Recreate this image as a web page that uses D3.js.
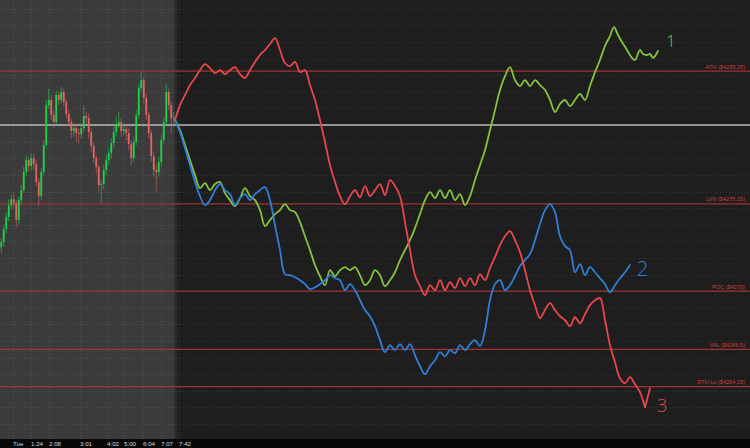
<!DOCTYPE html>
<html><head><meta charset="utf-8">
<script src="https://cdn.jsdelivr.net/npm/d3@7"></script>
<style>html,body{margin:0;padding:0;background:#1e1e1e;}svg{display:block;}</style>
</head><body>
<script>
// ---- data ----
const tickBars   = [5.2, 12.4, 19.6, 32, 42.8, 49.6, 57.2, 64.4, 71.6];
const tickLabels = ["Tue","1:24","2:08","3:01","4:02","5:00","6:04","7:07","7:42"];

const levelNames  = ["ATH ($4283.25)","LVN ($4275.25)","POC ($4270)","VAL ($4266.5)","RTH Lo ($4264.25)"];
const levelPrices = [4283.25, 4275.25, 4270, 4266.5, 4264.25];
const pivotPrice  = 4280;

const firstOpen = 4272.65;
const closes = [4272.95,4273.74,4274.46,4275.18,4275.54,4275.30,4274.28,4275.48,4276.08,4277.17,
4277.89,4277.53,4278.01,4277.65,4276.57,4275.72,4277.17,4278.80,4281.20,4281.51,
4280.60,4280.18,4281.81,4281.51,4281.99,4281.39,4280.66,4280.18,4279.64,4279.82,
4279.52,4279.46,4279.82,4280.54,4280.42,4279.58,4278.73,4278.01,4277.47,4276.39,
4276.45,4277.29,4277.89,4278.31,4278.92,4279.58,4280.06,4280.18,4279.64,4279.76,
4279.52,4278.86,4278.01,4278.98,4280.60,4282.23,4282.71,4281.63,4280.60,4279.52,
4278.13,4277.29,4277.17,4277.77,4279.10,4280.18,4281.99,4281.20,4280.42,4280.42];
const highs = [4273.2,4274.0,4274.7,4275.5,4275.8,4275.9,4275.5,4275.7,4276.4,4277.5,
4278.2,4278.1,4278.3,4278.3,4277.9,4276.8,4277.4,4279.1,4281.5,4282.2,
4281.8,4280.9,4282.1,4282.0,4282.3,4282.2,4281.6,4280.9,4280.4,4280.1,
4280.0,4279.8,4280.1,4281.2,4280.8,4280.7,4279.8,4278.9,4278.2,4277.6,
4276.7,4277.6,4278.2,4278.6,4279.2,4279.9,4280.5,4280.8,4280.4,4280.1,
4280.0,4279.8,4279.1,4279.3,4280.9,4282.5,4283.2,4282.9,4281.9,4280.8,
4279.7,4278.4,4277.6,4278.1,4279.4,4280.5,4282.5,4282.2,4281.4,4280.8];
const lows = [4272.3,4272.7,4273.5,4274.2,4274.9,4275.0,4273.8,4274.0,4275.2,4275.9,
4276.9,4277.2,4277.3,4277.3,4276.3,4275.1,4275.5,4277.0,4278.6,4281.0,
4280.3,4279.8,4280.0,4281.2,4281.3,4281.1,4280.4,4279.9,4279.2,4279.3,
4279.0,4278.9,4279.2,4279.6,4280.1,4279.2,4278.4,4277.7,4277.1,4276.0,
4275.3,4276.1,4277.0,4277.6,4278.0,4278.6,4279.3,4279.8,4279.3,4279.4,
4279.1,4278.5,4277.6,4277.8,4278.8,4280.4,4282.0,4281.3,4280.3,4279.2,
4277.8,4276.9,4276.0,4276.9,4277.5,4278.9,4280.0,4280.9,4279.5,4280.0];

// projected paths: [bar, price]
const redPath = [[70,4280.30],[72,4281.20],[74,4281.81],[76,4282.41],[78,4282.83],[80,4283.31],[82,4283.67],[84,4283.43],[86,4283.13],[88,4283.31],
[90,4283.07],[92,4283.31],[94,4283.49],[96,4283.07],[98,4282.83],[100,4283.31],[102,4283.80],[104,4284.22],[106,4284.52],[108,4284.88],
[110,4285.24],[112,4284.52],[114,4283.74],[116,4283.55],[118,4283.80],[120,4283.19],[122,4283.31],[124,4282.41],[126,4281.51],[128,4280.30],
[130,4278.98],[132,4277.59],[134,4276.57],[136,4275.72],[138,4275.24],[140,4275.72],[142,4276.08],[144,4275.66],[146,4276.33],[148,4275.72],
[150,4276.08],[152,4276.45],[154,4275.78],[156,4276.69],[158,4276.33],[160,4275.72],[162,4274.16],[164,4272.47],[166,4270.96],[168,4270.30],
[170,4269.76],[172,4270.36],[174,4270.06],[176,4270.66],[178,4270.06],[180,4270.54],[182,4270.18],[184,4270.78],[186,4270.30],[188,4270.78],
[190,4270.36],[192,4271.02],[194,4270.66],[196,4271.39],[198,4272.05],[200,4272.77],[202,4273.31],[204,4273.61],[206,4273.07],[208,4272.35],
[210,4271.27],[212,4270.06],[214,4269.16],[216,4268.37],[218,4268.86],[220,4269.28],[222,4268.86],[224,4268.49],[226,4268.25],[228,4267.89],
[230,4268.43],[232,4268.07],[234,4268.61],[236,4269.16],[238,4269.46],[240,4269.58],[242,4268.25],[244,4266.75],[246,4265.72],[248,4264.76],
[250,4264.46],[252,4264.82],[254,4264.40],[256,4263.92],[258,4263.01]];
const redArrowTick = [[258,4263.01],[260,4264.16]];

const greenPath = [[70,4280.30],[72,4279.70],[74,4278.80],[76,4277.89],[78,4276.99],[80,4276.20],[82,4276.51],[84,4276.08],[86,4276.45],[88,4276.57],
[90,4275.90],[92,4275.48],[94,4275.12],[96,4275.60],[98,4276.20],[100,4275.72],[102,4275.48],[104,4274.88],[106,4273.92],[108,4274.28],
[110,4274.64],[112,4274.88],[114,4275.24],[116,4274.88],[118,4274.76],[120,4274.16],[122,4273.31],[124,4272.47],[126,4271.57],[128,4270.90],
[130,4270.36],[132,4271.27],[134,4270.90],[136,4271.27],[138,4271.45],[140,4271.27],[142,4271.45],[144,4270.96],[146,4270.36],[148,4270.66],
[150,4271.27],[152,4270.96],[154,4270.30],[156,4270.66],[158,4271.14],[160,4271.87],[162,4272.47],[164,4273.07],[166,4273.80],[168,4274.64],
[170,4275.48],[172,4275.96],[174,4275.60],[176,4276.08],[178,4275.60],[180,4276.08],[182,4275.48],[184,4275.84],[186,4275.18],[188,4275.72],
[190,4276.69],[192,4277.59],[194,4278.49],[196,4279.70],[198,4280.90],[200,4282.11],[202,4282.95],[204,4283.49],[206,4282.71],[208,4282.35],
[210,4282.71],[212,4282.35],[214,4282.71],[216,4282.41],[218,4282.11],[220,4281.51],[222,4280.78],[224,4281.27],[226,4281.51],[228,4281.14],
[230,4281.51],[232,4281.87],[234,4281.51],[236,4282.35],[238,4283.19],[240,4283.92],[242,4284.76],[244,4285.36],[245.6,4285.90],[247.2,4285.42],
[248.8,4285.00],[250.8,4284.52],[252.8,4284.04],[254,4283.92],[256,4284.52],[257.2,4284.28],[258.8,4284.22],[260,4284.28],[261.2,4284.04],[263.2,4284.46]];

const bluePath = [[70,4280.30],[72,4279.58],[74,4278.61],[76,4277.59],[78,4276.57],[80,4275.72],[82,4275.18],[84,4275.48],[86,4276.08],[88,4276.45],
[90,4276.08],[92,4275.84],[94,4275.18],[96,4275.60],[98,4275.84],[100,4275.48],[102,4275.84],[104,4276.08],[106,4276.27],[108,4275.48],
[110,4273.98],[112,4272.47],[114,4271.02],[116,4270.96],[118,4270.84],[120,4270.66],[122,4270.42],[124,4270.12],[126,4270.24],[128,4270.42],
[130,4270.66],[132,4270.96],[134,4270.78],[136,4270.66],[138,4270.06],[140,4270.42],[142,4270.06],[144,4269.46],[146,4268.86],[148,4268.49],
[150,4267.89],[152,4267.05],[154,4266.33],[156,4266.75],[158,4266.45],[160,4266.81],[162,4266.45],[164,4266.81],[166,4266.14],[168,4265.48],
[170,4265.00],[172,4265.48],[174,4265.84],[176,4266.33],[178,4266.08],[180,4266.45],[182,4266.27],[184,4266.75],[186,4266.45],[188,4266.81],
[190,4267.05],[192,4266.69],[194,4267.65],[196,4269.46],[198,4270.42],[200,4270.66],[202,4270.06],[204,4270.36],[206,4270.90],[208,4271.51],
[210,4271.87],[212,4272.23],[214,4273.07],[216,4274.04],[218,4274.88],[220,4275.24],[222,4274.76],[224,4273.31],[226,4272.71],[228,4272.47],
[230,4271.14],[232,4271.63],[234,4270.96],[236,4271.45],[238,4271.14],[240,4270.78],[242,4270.42],[244,4269.94],[246,4270.36],[248,4270.78],
[250,4271.14],[252,4271.57]];

const noteLabels = ["1","2","3"];
const notePos    = [[266.4,4284.7],[254.6,4270.9],[262.8,4262.7]]; // [bar, price] of text baseline-left

// ---- layout ----
const W = 750, H = 448, plotBottom = 439;
const histBars = 70;
const x = d3.scaleLinear().domain([0, 300]).range([0, W]);
const y = d3.scaleLinear().domain([4261.1, 4287.53]).range([plotBottom, 0]);

const svg = d3.select("body").append("svg").attr("width", W).attr("height", H);

svg.append("rect").attr("x",0).attr("y",0).attr("width",W).attr("height",plotBottom).attr("fill","#1e1e1e");
svg.append("rect").attr("x",0).attr("y",0).attr("width",x(histBars)).attr("height",plotBottom).attr("fill","#3b3b3b");
svg.append("rect").attr("x",x(histBars)-0.5).attr("y",0).attr("width",3).attr("height",plotBottom).attr("fill","#292929");

// grid
const gridPrices = d3.range(4262, 4288, 1);
svg.append("g").selectAll("line").data(gridPrices).join("line")
  .attr("x1",0).attr("x2",W).attr("y1",d=>Math.round(y(d))+0.5).attr("y2",d=>Math.round(y(d))+0.5)
  .attr("stroke","rgba(255,255,255,0.10)").attr("stroke-dasharray","1,2");
svg.append("g").selectAll("line").data(tickBars).join("line")
  .attr("x1",d=>Math.round(x(d))+0.5).attr("x2",d=>Math.round(x(d))+0.5).attr("y1",0).attr("y2",plotBottom)
  .attr("stroke","rgba(255,255,255,0.10)").attr("stroke-dasharray","1,2");

// levels
svg.append("g").selectAll("line").data(levelPrices).join("line")
  .attr("x1",0).attr("x2",W).attr("y1",d=>y(d)).attr("y2",d=>y(d))
  .attr("stroke","#9c3535").attr("stroke-width",1.3);
svg.append("line").attr("x1",0).attr("x2",W).attr("y1",y(pivotPrice)).attr("y2",y(pivotPrice))
  .attr("stroke","#b8b8b8").attr("stroke-width",1.4);
svg.append("g").selectAll("text").data(levelNames).join("text")
  .attr("x",W-5).attr("y",(d,i)=>y(levelPrices[i])-2.5)
  .attr("text-anchor","end").attr("font-family","Liberation Sans, Arial, sans-serif")
  .attr("font-size",5.6).attr("fill","#d0393b").text(d=>d);

// candles
const opens = [firstOpen].concat(closes.slice(0,-1));
const bw = x(1)-x(0);
const cg = svg.append("g");
closes.forEach((c,i)=>{
  const o = opens[i];
  const col = c >= o ? "#1fd247" : "#e46464";
  const cx = x(i) + bw/2;
  cg.append("line").attr("x1",cx).attr("x2",cx).attr("y1",y(highs[i])).attr("y2",y(lows[i]))
    .attr("stroke",col).attr("stroke-width",0.7).attr("opacity",0.85);
  const top = y(Math.max(o,c)), bot = y(Math.min(o,c));
  cg.append("rect").attr("x",cx-0.9).attr("y",top).attr("width",1.8).attr("height",Math.max(0.8,bot-top)).attr("fill",col);
});

// projected paths
const line = d3.line().x(d=>x(d[0])).y(d=>y(d[1])).curve(d3.curveCatmullRom.alpha(0.5));
const pathStyle = (sel,col)=>sel.attr("fill","none").attr("stroke",col).attr("stroke-width",1.8)
  .attr("stroke-linejoin","round").attr("stroke-linecap","round");
pathStyle(svg.append("path").datum(greenPath).attr("d",line), "#86c23f");
pathStyle(svg.append("path").datum(bluePath).attr("d",line), "#2f7fd6");
pathStyle(svg.append("path").datum(redPath).attr("d",line), "#e8474b");
pathStyle(svg.append("path").datum(redArrowTick).attr("d",d3.line().x(d=>x(d[0])).y(d=>y(d[1]))), "#e8474b");

// notes
const noteColors = ["#86c23f","#2f7fd6","#e8474b"];
const noteSizes = [17, 21, 18];
svg.append("g").selectAll("text").data(noteLabels).join("text")
  .attr("x",(d,i)=>x(notePos[i][0])).attr("y",(d,i)=>y(notePos[i][1]))
  .attr("font-family","Open Sans, Lato, sans-serif").attr("font-weight",300)
  .attr("font-size",(d,i)=>noteSizes[i]).attr("fill",(d,i)=>noteColors[i]).text(d=>d);

// axis band
svg.append("rect").attr("x",0).attr("y",plotBottom).attr("width",W).attr("height",H-plotBottom).attr("fill","#070707");
svg.append("g").selectAll("text").data(tickLabels).join("text")
  .attr("x",(d,i)=>x(tickBars[i])).attr("y",446.3)
  .attr("font-family","Liberation Sans, Arial, sans-serif").attr("font-size",6.2)
  .attr("fill","#d8d8d8").text(d=>d);
</script>
</body></html>
